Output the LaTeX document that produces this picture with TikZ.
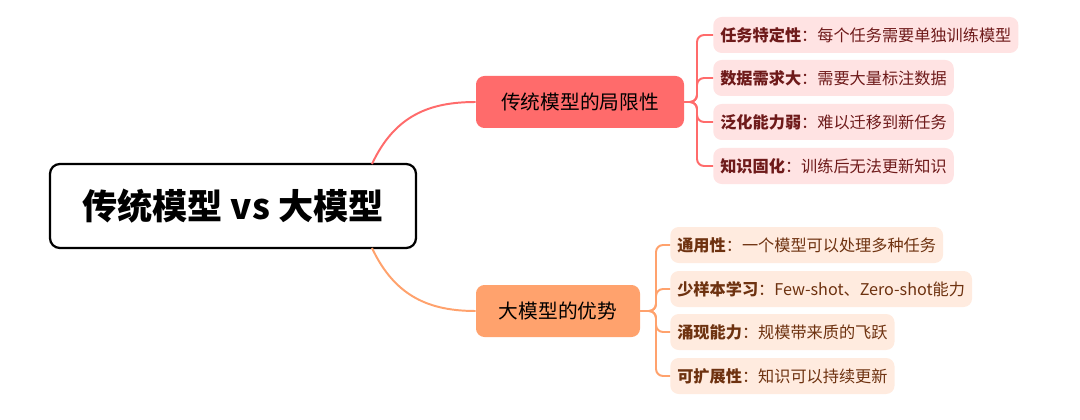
\documentclass[tikz,border=0pt]{standalone}
\usepackage{fontspec}
\setmainfont{Noto Sans CJK SC}
\usetikzlibrary{positioning}
\definecolor{redbr}{HTML}{FF6B6B}
\definecolor{redlf}{HTML}{FFE3E3}
\definecolor{redtx}{HTML}{6E1A1A}
\definecolor{orbr}{HTML}{FFA26D}
\definecolor{orlf}{HTML}{FFEBDF}
\definecolor{ortx}{HTML}{6E3210}
\tikzset{
  root/.style={draw=black,line width=1.6pt,rounded corners=7pt,minimum width=366*0.025cm,minimum height=84*0.025cm,font=\fontsize{25}{28}\selectfont\bfseries},
  branch/.style={rounded corners=6pt,minimum height=52*0.025cm,inner xsep=8pt,font=\fontsize{14}{16}\selectfont},
  leaf/.style={anchor=west,rounded corners=6pt,minimum height=36*0.025cm,inner xsep=5pt,font=\fontsize{11.5}{13}\selectfont},
  link/.style={line width=1.4pt,rounded corners=5pt}
}
\begin{document}
\begin{tikzpicture}[x=0.025cm,y=-0.025cm]
\useasboundingbox (0,0) rectangle (1080,420);
\node[root](root)at(233,206){传统模型 vs 大模型};
\node[branch,fill=redbr,minimum width=208*0.025cm](b1)at(580,102){传统模型的局限性};
\node[branch,fill=orbr,minimum width=164*0.025cm](b2)at(558,311){大模型的优势};

\node[leaf,fill=redlf,text=redtx](l1)at(713,35){\textbf{任务特定性}：每个任务需要单独训练模型};
\node[leaf,fill=redlf,text=redtx](l2)at(713,78){\textbf{数据需求大}：需要大量标注数据};
\node[leaf,fill=redlf,text=redtx](l3)at(713,122){\textbf{泛化能力弱}：难以迁移到新任务};
\node[leaf,fill=redlf,text=redtx](l4)at(713,166){\textbf{知识固化}：训练后无法更新知识};

\node[leaf,fill=orlf,text=ortx](o1)at(670,245){\textbf{通用性}：一个模型可以处理多种任务};
\node[leaf,fill=orlf,text=ortx](o2)at(670,289){\textbf{少样本学习}：Few-shot、Zero-shot能力};
\node[leaf,fill=orlf,text=ortx](o3)at(670,332){\textbf{涌现能力}：规模带来质的飞跃};
\node[leaf,fill=orlf,text=ortx](o4)at(670,376){\textbf{可扩展性}：知识可以持续更新};

\coordinate(s1)at(372,164);
\coordinate(s2)at(372,248);
\coordinate(j1)at(697,102);
\coordinate(j2)at(656,311);
\draw[redbr,line width=1.4pt](s1) .. controls (395,115) and (430,102) .. (b1.west);
\draw[orbr,line width=1.4pt](s2) .. controls (395,297) and (430,311) .. (b2.west);
\foreach \n in {l1,l2,l3,l4}
  \draw[link,redbr](b1.east) -- (j1) |- (\n.west);
\foreach \n in {o1,o2,o3,o4}
  \draw[link,orbr](b2.east) -- (j2) |- (\n.west);
\end{tikzpicture}
\end{document}
